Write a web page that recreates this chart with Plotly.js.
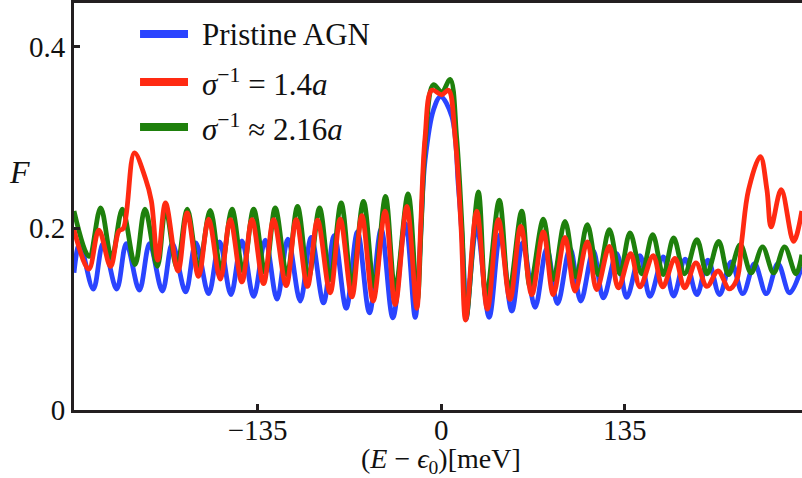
<!DOCTYPE html>
<html>
<head>
<meta charset="utf-8">
<script src="https://cdn.plot.ly/plotly-3.0.1.min.js"></script>
<style>html,body{margin:0;padding:0;background:#fff;overflow:hidden;}#chart{width:802px;height:478px;}</style>
</head>
<body>
<div id="chart"></div>
<script>
// Pristine AGN (blue)
const blueX = [-270, -265.8, -255.8, -248.6, -238.6, -231.5, -221.9, -214.4, -205.0, -197.7, -187.9, -180.4, -171.0, -162.9, -154.6, -146.5, -137.9, -129.3, -120.7, -112.7, -103.6, -95.5, -86.5, -78.6, -69.8, -61.5, -52.7, -44.1, -35.5, -26.2, -19.1, -15.9, -14.2, -11.8, -5.7, -0.4, 7.9, 12.7, 15.2, 16.9, 18.4, 26.2, 35.3, 43.4, 52.0, 60.0, 69.1, 77.7, 85.6, 94.8, 102.7, 111.9, 119.3, 129.1, 136.5, 146.2, 153.6, 163.4, 170.9, 179.5, 188.1, 196.2, 204.8, 213.3, 221.9, 230.5, 239.1, 247.7, 256.3, 265.3];
const blueY = [0.151, 0.183, 0.133, 0.183, 0.133, 0.183, 0.132, 0.183, 0.131, 0.183, 0.130, 0.184, 0.128, 0.185, 0.127, 0.186, 0.125, 0.187, 0.122, 0.188, 0.120, 0.190, 0.118, 0.192, 0.112, 0.196, 0.107, 0.199, 0.1015, 0.205, 0.102, 0.166, 0.2205, 0.275, 0.330, 0.345, 0.323, 0.246, 0.195, 0.147, 0.100, 0.202, 0.102, 0.193, 0.109, 0.184, 0.113, 0.178, 0.117, 0.178, 0.120, 0.175, 0.1235, 0.172, 0.124, 0.170, 0.125, 0.1685, 0.1255, 0.166, 0.127, 0.165, 0.127, 0.163, 0.128, 0.161, 0.128, 0.161, 0.129, 0.158];

// sigma^-1 = 1.4a (red)
const redX = [-270, -259.1, -251.7, -243.1, -237.0, -233.7, -225.6, -217.5, -213.1, -208.4, -202.7, -193.5, -186.8, -178.4, -171.0, -162.4, -155.1, -146.5, -139.1, -130.6, -123.2, -113.9, -106.6, -98.3, -90.9, -81.6, -74.2, -65.6, -58.3, -50.0, -41.2, -33.8, -25.2, -17.9, -15.1, -11.8, -6.8, 0.5, 5.4, 10.3, 14.7, 18.0, 26.2, 34.0, 42.1, 50.7, 58.6, 66.7, 75.2, 82.5, 91.1, 98.5, 107.5, 114.4, 123.7, 130.3, 139.4, 146.2, 156.0, 162.9, 172.0, 179.1, 187.4, 195.5, 203.6, 211.9, 217.5, 221.2, 226.1, 234.7, 239.6, 242.7, 250.1, 259.2, 265.3];
const redY = [0.198, 0.155, 0.198, 0.158, 0.197, 0.200, 0.283, 0.255, 0.230, 0.165, 0.228, 0.153, 0.217, 0.147, 0.210, 0.144, 0.2095, 0.141, 0.2095, 0.139, 0.2095, 0.137, 0.2095, 0.136, 0.209, 0.129, 0.210, 0.1245, 0.214, 0.120, 0.219, 0.116, 0.224, 0.112, 0.200, 0.300, 0.352, 0.347, 0.352, 0.300, 0.200, 0.099, 0.219, 0.111, 0.2095, 0.1217, 0.202, 0.127, 0.196, 0.127, 0.190, 0.131, 0.185, 0.1326, 0.180, 0.1345, 0.172, 0.1355, 0.170, 0.1355, 0.167, 0.1345, 0.162, 0.136, 0.153, 0.1334, 0.1436, 0.1876, 0.2425, 0.279, 0.2425, 0.2015, 0.2425, 0.1857, 0.219];

// sigma^-1 ~ 2.16a (green)
const greenX = [-270, -258.9, -250.4, -242.3, -234.4, -225.1, -217.8, -208.7, -202.6, -194.4, -186.7, -178.4, -169.8, -161.9, -153.8, -145.7, -137.9, -129.3, -122.0, -113.4, -105.6, -97.5, -89.4, -81.6, -73.5, -65.6, -57.1, -49.2, -40.9, -33.8, -24.3, -17.6, -14.7, -11.4, -5.7, 0.5, 6.6, 11.4, 15.4, 18.4, 27.4, 33.1, 42.8, 50.0, 59.3, 65.4, 75.2, 82.5, 91.1, 99.2, 107.5, 115.6, 123.7, 131.5, 138.9, 147.5, 155.6, 163.4, 171.0, 179.1, 188.1, 195.5, 204.1, 211.4, 220.0, 228.0, 236.4, 244.5, 252.6, 260.9, 265.3];
const greenY = [0.219, 0.169, 0.2225, 0.1675, 0.221, 0.160, 0.221, 0.158, 0.221, 0.157, 0.221, 0.1565, 0.2198, 0.1546, 0.221, 0.153, 0.221, 0.151, 0.2225, 0.149, 0.224, 0.1455, 0.2225, 0.1436, 0.228, 0.138, 0.2297, 0.136, 0.235, 0.1326, 0.238, 0.120, 0.200, 0.300, 0.358, 0.350, 0.364, 0.300, 0.200, 0.101, 0.240, 0.1235, 0.231, 0.131, 0.219, 0.136, 0.210, 0.1436, 0.2077, 0.1466, 0.204, 0.149, 0.1986, 0.150, 0.195, 0.150, 0.193, 0.149, 0.1894, 0.150, 0.1876, 0.150, 0.1857, 0.149, 0.182, 0.151, 0.1795, 0.151, 0.1795, 0.150, 0.171];

const xTicks = [-135, 0, 135];
const yTicks = [0, 0.2, 0.4];
const seriesNames = ['Pristine AGN', '<i>σ</i><sup>−1</sup> = 1.4<i>a</i>', '<i>σ</i><sup>−1</sup> ≈ 2.16<i>a</i>'];
const seriesColors = ['#2a44ff', '#ff2a12', '#1e800c'];

const FONT = '"Liberation Serif", "DejaVu Serif", "Times New Roman", serif';
const AX = '#231f20';

const mk = (x, y, i) => ({
  x: x, y: y, type: 'scatter', mode: 'lines', name: seriesNames[i],
  line: {color: seriesColors[i], width: 4.8, shape: 'spline', smoothing: 1},
  hoverinfo: 'skip'
});
const data = [mk(blueX, blueY, 0), mk(greenX, greenY, 2), mk(redX, redY, 1)];

// manual legend
const legY = [0.9236, 0.8056, 0.6953];
const shapes = [];
const annotations = [];
for (let i = 0; i < 3; i++) {
  shapes.push({type: 'line', xref: 'paper', yref: 'paper', x0: 0.0907, x1: 0.1566, y0: legY[i], y1: legY[i],
    line: {color: seriesColors[i], width: 8}});
  annotations.push({xref: 'paper', yref: 'paper', x: 0.1731, y: legY[i], xanchor: 'left', yanchor: 'middle',
    text: seriesNames[i], showarrow: false, font: {family: FONT, size: 31, color: '#111'}});
}
annotations.push({xref: 'paper', yref: 'y', x: -0.0755, y: 0.262, xanchor: 'center', yanchor: 'middle',
  text: '<i>F</i>', showarrow: false, font: {family: FONT, size: 32, color: '#111'}});
annotations.push({xref: 'x', yref: 'paper', x: 0, y: 0, yshift: -50, xanchor: 'center', yanchor: 'middle',
  text: '(<i>E</i> − <i>ϵ</i><sub>0</sub>)[meV]', showarrow: false, borderpad: 0,
  font: {family: FONT, size: 28, color: '#111'}});

const layout = {
  width: 802, height: 478,
  margin: {l: 74, r: 0, t: 3, b: 68, pad: 0},
  paper_bgcolor: '#fff', plot_bgcolor: '#fff',
  showlegend: false,
  xaxis: {range: [-270, 265.4], tickvals: xTicks, ticks: 'inside', ticklen: 6, tickwidth: 3, tickcolor: AX,
    showline: true, linewidth: 3, linecolor: AX, mirror: true, showgrid: false, zeroline: false,
    ticklabelstandoff: -8,
    tickfont: {family: FONT, size: 29, color: '#111'}},
  yaxis: {range: [0, 0.448], tickvals: yTicks, ticks: 'inside', ticklen: 6, tickwidth: 3, tickcolor: AX,
    showline: true, linewidth: 3, linecolor: AX, mirror: true, showgrid: false, zeroline: false,
    tickfont: {family: FONT, size: 29, color: '#111'}},
  shapes: shapes,
  annotations: annotations
};
Plotly.newPlot('chart', data, layout, {displayModeBar: false, staticPlot: true});
</script>
</body>
</html>
